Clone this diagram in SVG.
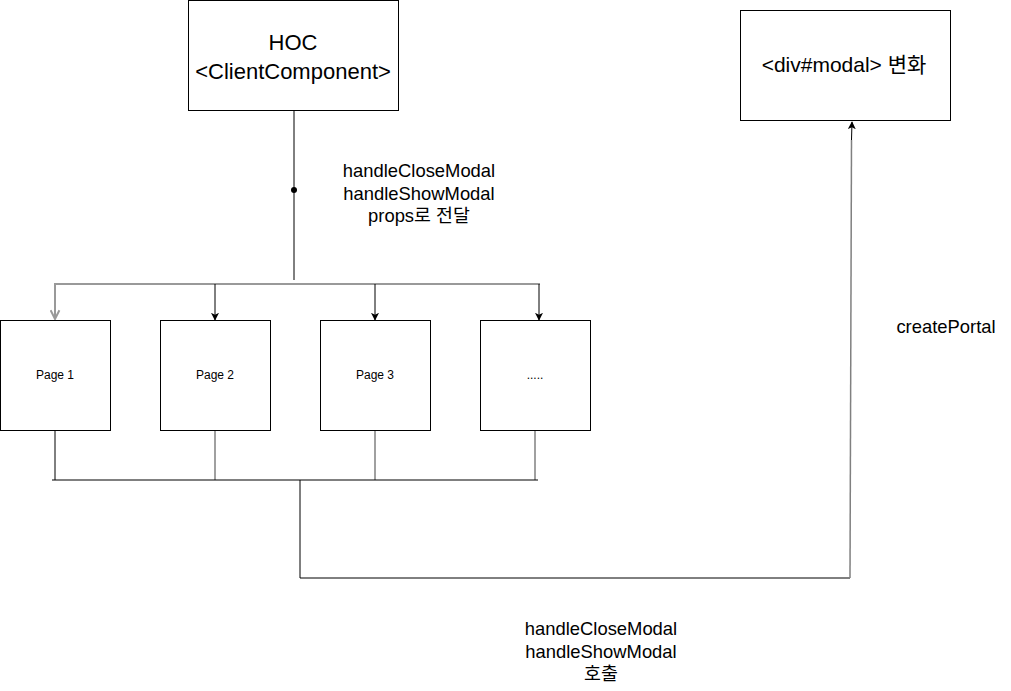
<svg xmlns="http://www.w3.org/2000/svg" width="1011" height="691" viewBox="0 0 1011 691">
<defs>
<style>
.box{fill:#fff;stroke:#000;stroke-width:1}
.t{font-family:"Liberation Sans",Arial,"Noto Sans CJK KR",sans-serif;fill:#000;text-anchor:middle}
.big{font-size:22px}
.mid{font-size:18.4px}
.sm{font-size:12px}
.ln{fill:none;stroke:#000;stroke-width:1}
.gr{fill:none;stroke:#999;stroke-width:2}
.gr2{fill:none;stroke:#808080;stroke-width:1.5}
</style>
<marker id="ab" viewBox="0 0 10 10" refX="9" refY="5" markerWidth="8" markerHeight="8" markerUnits="userSpaceOnUse" orient="auto">
<path d="M0,0 L10,5 L0,10 L2.5,5 Z" fill="#000"/>
</marker>
<marker id="ag" viewBox="0 0 10 10" refX="9" refY="5" markerWidth="11" markerHeight="11" markerUnits="userSpaceOnUse" orient="auto">
<path d="M1,1 L9,5 L1,9" fill="none" stroke="#999" stroke-width="1.8"/>
</marker>
</defs>
<rect width="1011" height="691" fill="#fff"/>
<g id="connectors">
<line class="ln" x1="294" y1="110" x2="294" y2="280"/>
<circle cx="294" cy="190" r="3" fill="#000"/>
<polyline class="gr" points="55,319 55,284 540,284"/>
<path class="gr" d="M55,300 L55,319" marker-end="url(#ag)"/>
<line class="ln" x1="215" y1="284" x2="215" y2="320" marker-end="url(#ab)"/>
<line class="ln" x1="375" y1="284" x2="375" y2="320" marker-end="url(#ab)"/>
<line class="ln" x1="539" y1="284" x2="539" y2="320" marker-end="url(#ab)"/>
<line class="ln" x1="55" y1="430" x2="55" y2="480"/>
<line class="gr2" x1="215" y1="430" x2="215" y2="480"/>
<line class="gr2" x1="375" y1="430" x2="375" y2="480"/>
<line class="gr2" x1="535" y1="430" x2="535" y2="480"/>
<line class="ln" x1="52" y1="480" x2="538" y2="480"/>
<polyline class="ln" points="300,480 300,578 850,578"/>
<path class="gr2" d="M850,578 L851.5,140" stroke-width="1.2"/>
<line class="ln" x1="851.5" y1="140" x2="852" y2="122" marker-end="url(#ab)"/>
<text class="t mid" x="419" y="177">handleCloseModal</text>
<text class="t mid" x="419" y="200">handleShowModal</text>
<text class="t mid" x="419" y="222">props로 전달</text>
<text class="t mid" x="946" y="333">createPortal</text>
<text class="t mid" x="601" y="635">handleCloseModal</text>
<text class="t mid" x="601" y="658">handleShowModal</text>
<text class="t mid" x="601" y="680">호출</text>
</g>
<g id="hoc">
<rect class="box" x="188.5" y="0.5" width="210" height="110"/>
<text class="t big" x="293" y="50">HOC</text>
<text class="t big" x="293" y="79">&lt;ClientComponent&gt;</text>
</g>
<g id="modal">
<rect class="box" x="740.5" y="10.5" width="210" height="110"/>
<text class="t" font-size="21" x="844" y="72">&lt;div#modal&gt; 변화</text>
</g>
<g id="page1">
<rect class="box" x="0.5" y="320.5" width="110" height="110"/>
<text class="t sm" x="55" y="379">Page 1</text>
</g>
<g id="page2">
<rect class="box" x="160.5" y="320.5" width="110" height="110"/>
<text class="t sm" x="215" y="379">Page 2</text>
</g>
<g id="page3">
<rect class="box" x="320.5" y="320.5" width="110" height="110"/>
<text class="t sm" x="375" y="379">Page 3</text>
</g>
<g id="page4">
<rect class="box" x="480.5" y="320.5" width="110" height="110"/>
<text class="t sm" x="535" y="379">.....</text>
</g>
</svg>
